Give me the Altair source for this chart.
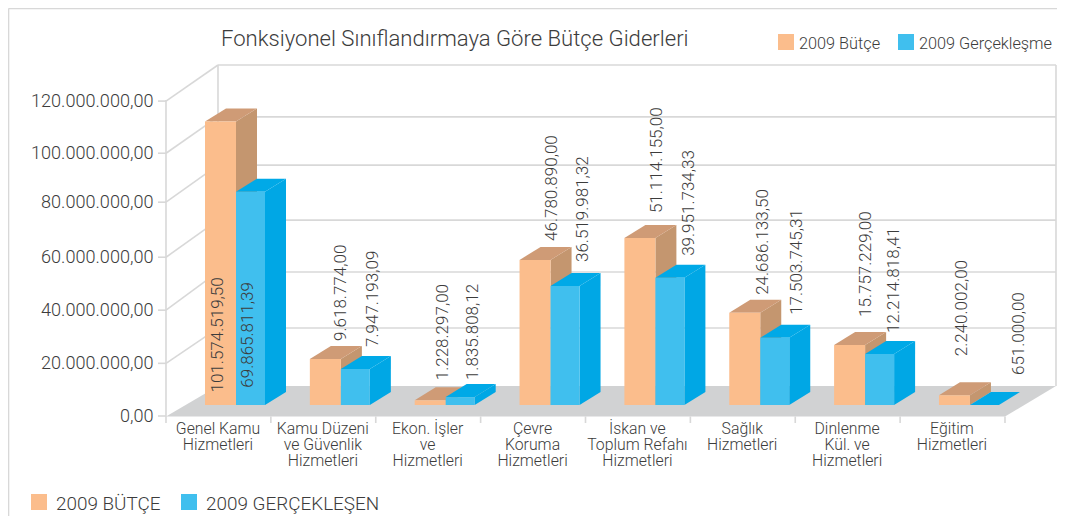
import altair as alt
import pandas as pd

# ---- data ----
categories = ["Genel Kamu\nHizmetleri", "Kamu Düzeni\nve Güvenlik\nHizmetleri", "Ekon. İşler\nve\nHizmetleri",
              "Çevre\nKoruma\nHizmetleri", "İskan ve\nToplum Refahı\nHizmetleri", "Sağlık\nHizmetleri",
              "Dinlenme\nKül. ve\nHizmetleri", "Eğitim\nHizmetleri"]
budget_labels = ["101.574.519,50", "9.618.774,00", "1.228.297,00", "46.780.890,00",
                 "51.114.155,00", "24.686.133,50", "15.757.229,00", "2.240.002,00"]
actual_labels = ["69.865.811,39", "7.947.193,09", "1.835.808,12", "36.519.981,32",
                 "39.951.734,33", "17.503.745,31", "12.214.818,41", "651.000,00"]
# heights as they are drawn, in millions on the axis scale
budget_drawn = [107.7, 17.5, 1.8, 55.1, 63.4, 35.0, 22.8, 3.7]
actual_drawn = [81.0, 13.7, 3.0, 45.2, 48.3, 25.5, 19.4, 0.0]
tick_labels = ["0,00", "20.000.000,00", "40.000.000,00", "60.000.000,00",
               "80.000.000,00", "100.000.000,00", "120.000.000,00"]
tick_values = [0, 20, 40.2, 60.3, 81.2, 99.8, 119.6]
back_values = [11.4, 33.4, 54.7, 74.4, 95.3, 113.6, 133.3]

# ---- layout ----
W, H = 1049, 508
FONT = "Roboto"
WEIGHT = 300
TXT = "#3c3c3c"
GRID = "#d8d8d8"
PEACH, PEACH_TOP, PEACH_SIDE = "#fbbd8c", "#cf9b76", "#c4966f"
BLUE, BLUE_TOP, BLUE_SIDE = "#40bfee", "#00a9e7", "#00a7e5"

STEP = 104.85
def U(px):  # picture x -> category units
    return (px - 236) / STEP
def V(py):  # picture y -> millions
    return (416 - py) / 2.633

xs = alt.Scale(domain=[U(8), U(8 + W)], range=[0, W], nice=False, zero=False)
ys = alt.Scale(domain=[V(8 + H), V(8)], range=[H, 0], nice=False, zero=False)
X = lambda f: alt.X(f, type="quantitative", scale=xs, axis=None)
Y = lambda f: alt.Y(f, type="quantitative", scale=ys, axis=None)

BASE = V(405)
DX = 21 / STEP
DY = 13 / 2.633

def bar_layers(values, left_px, right_px, front, top, side):
    rects, sides, tops = [], [], []
    for i, v in enumerate(values):
        L, R = i + left_px / STEP, i + right_px / STEP
        T = BASE + v
        rects.append(dict(a=L, b=R, lo=BASE, hi=T))
        sides.append(dict(c=i, x=R, lo=BASE, hi=T))
        sides.append(dict(c=i, x=R + DX, lo=BASE + DY, hi=T + DY))
        tops.append(dict(c=i, x=L, lo=T, hi=T))
        tops.append(dict(c=i, x=L + DX, lo=T, hi=T + DY))
        tops.append(dict(c=i, x=R, lo=T, hi=T + DY))
        tops.append(dict(c=i, x=R + DX, lo=T + DY, hi=T + DY))
    s = alt.Chart(pd.DataFrame(sides)).mark_area(color=side, orient="vertical").encode(
        x=X("x"), y=Y("lo"), y2="hi", detail="c:N")
    t = alt.Chart(pd.DataFrame(tops)).mark_area(color=top, orient="vertical").encode(
        x=X("x"), y=Y("lo"), y2="hi", detail="c:N")
    f = alt.Chart(pd.DataFrame(rects)).mark_rect(color=front).encode(
        x=X("a"), x2="b", y=Y("lo"), y2="hi")
    return [s, t, f]

# frame lines
lines = []
def seg(px0, py0, px1, py1):
    k = len(lines) // 2
    lines.append(dict(k=k, x=U(px0), y=V(py0), o=0))
    lines.append(dict(k=k, x=U(px1), y=V(py1), o=1))
ax0, ax1, bx0, bx1 = 166, 1005, 218, 1056
seg(8.5, 8.5, 1057, 8.5)
seg(8.5, 8.5, 8.5, 516)
seg(bx0, 65, bx0, 386)
seg(bx1, 65, bx1, 386)
seg(ax0, 100, ax0, 423)
for f_v, b_v in zip(tick_values, back_values):
    seg(158, 416 - f_v * 2.633, ax0, 416 - f_v * 2.633)
    if f_v > 0:
        seg(ax0, 416 - f_v * 2.633, bx0, 416 - b_v * 2.633)
        seg(bx0, 416 - b_v * 2.633, bx1, 416 - b_v * 2.633)
for i in range(1, 9):
    px = ax0 + i * (ax1 - ax0) / 8
    seg(px, 416.5, px, 423)
frame = alt.Chart(pd.DataFrame(lines)).mark_line(color=GRID, strokeWidth=1.6).encode(
    x=X("x"), y=Y("y"), detail="k:N", order="o:Q")

floor_df = pd.DataFrame([
    dict(x=U(ax0), lo=V(416.5), hi=V(416.5)),
    dict(x=U(bx0), lo=V(416.5), hi=V(386)),
    dict(x=U(ax1), lo=V(416.5), hi=V(386)),
    dict(x=U(bx1), lo=V(386), hi=V(386)),
])
floor = alt.Chart(floor_df).mark_area(color="#d1d2d3", orient="vertical").encode(
    x=X("x"), y=Y("lo"), y2="hi")

# axis tick labels
ticks_df = pd.DataFrame(dict(x=[U(153.5)] * 7, y=[v - 0.3 for v in tick_values], t=tick_labels))
ticks_txt = alt.Chart(ticks_df).mark_text(font=FONT, fontWeight=WEIGHT, fontSize=18.1, color=TXT, align="right", baseline="middle").encode(
    x=X("x"), y=Y("y"), text="t:N")

# category labels
cat_df = pd.DataFrame(dict(x=[i - 18 / STEP for i in range(8)], y=[V(422)] * 8, t=categories))
cat_txt = alt.Chart(cat_df).mark_text(font=FONT, fontWeight=WEIGHT, fontSize=15.8, color=TXT, align="center", baseline="top",
                                      lineBreak="\n", lineHeight=16).encode(
    x=X("x"), y=Y("y"), text="t:N")

# hand-placed value labels in the reference: nudges in picture pixels
budget_nudge = [-18, 0, -3, 1, 2, 3, 1, -8]
actual_nudge = [12, 32, 27, 32, 34, 37, 29, 49]
budget_gap = [-271, 18, 20, 19, 25, 18, 28, 39]
actual_gap = [-196, 22, 17, 24, 22, 23, 21, 30]
val_rows = []
for i in range(8):
    val_rows.append(dict(x=i + budget_nudge[i] / STEP, y=BASE + budget_drawn[i] + budget_gap[i] / 2.633, t=budget_labels[i]))
    val_rows.append(dict(x=i + actual_nudge[i] / STEP, y=BASE + actual_drawn[i] + actual_gap[i] / 2.633, t=actual_labels[i]))
val_txt = alt.Chart(pd.DataFrame(val_rows)).mark_text(font=FONT, fontWeight=WEIGHT, fontSize=17, color=TXT, angle=270, align="left",
                                                      baseline="middle").encode(
    x=X("x"), y=Y("y"), text="t:N")

# title and legends
def text_at(s, px, py, size):
    return alt.Chart(pd.DataFrame(dict(t=[s]))).mark_text(font=FONT, fontWeight=WEIGHT, fontSize=size, color=TXT, align="left",
                                                          baseline="middle").encode(
        x=alt.value(px - 8), y=alt.value(py - 8), text="t:N")
def swatch(px, py, col):
    return alt.Chart(pd.DataFrame(dict(t=[0]))).mark_square(color=col, size=256, opacity=1).encode(
        x=alt.value(px - 8 + 8), y=alt.value(py - 8 + 8))

decor = [
    text_at("Fonksiyonel Sınıflandırmaya Göre Bütçe Giderleri", 221, 39, 22.1),
    swatch(778, 34, PEACH), text_at("2009 Bütçe", 799, 44, 16.3),
    swatch(898, 34, BLUE), text_at("2009 Gerçekleşme", 919, 44, 16.3),
    swatch(31, 494, PEACH), text_at("2009 BÜTÇE", 56, 504, 18.9),
    swatch(181, 494, BLUE), text_at("2009 GERÇEKLEŞEN", 206, 504, 18.9),
]

layers = [frame, floor]
layers += bar_layers(budget_drawn, -31, 0, PEACH, PEACH_TOP, PEACH_SIDE)
layers += bar_layers(actual_drawn, 0, 29, BLUE, BLUE_TOP, BLUE_SIDE)
layers += [ticks_txt, cat_txt, val_txt] + decor

chart = alt.layer(*layers).properties(
    width=W, height=H, padding=0, autosize=alt.AutoSizeParams(type="none"), background="white"
).configure_view(stroke=None)

chart.save("out.html", embed_options={"renderer": "svg", "actions": False})
